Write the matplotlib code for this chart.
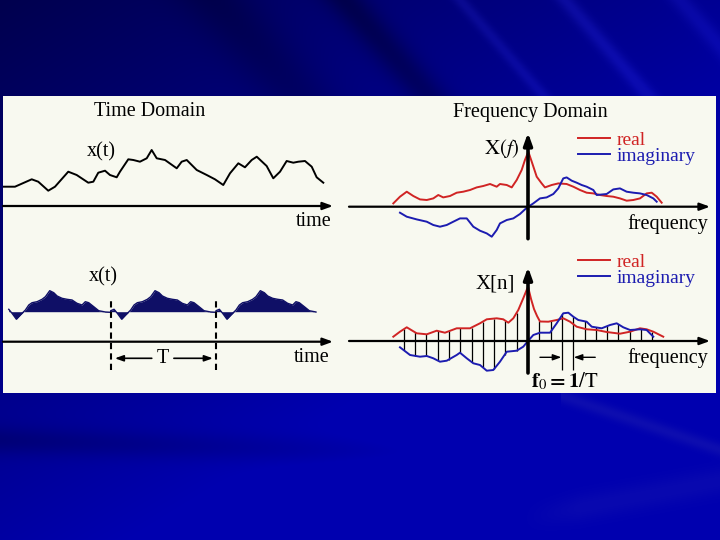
import numpy as np
import matplotlib
matplotlib.use('Agg')
import matplotlib.pyplot as plt
from matplotlib.patches import Rectangle

plt.rcParams['font.family'] = ['Liberation Serif', 'DejaVu Serif']
plt.rcParams['mathtext.fontset'] = 'stix'

W, H = 720, 540

# ---- data ----
# time domain, top: t in periods T, amplitude in arbitrary units
t_top = [-1.035, -0.909, -0.750, -0.688, -0.593, -0.529, -0.403, -0.323, -0.213, -0.165,
         -0.118, -0.054, -0.007, 0.057, 0.088, 0.167, 0.215, 0.278, 0.342, 0.389,
         0.437, 0.516, 0.627, 0.674, 0.722, 0.817, 0.912, 0.990, 1.069, 1.133,
         1.212, 1.275, 1.339, 1.387, 1.481, 1.544, 1.608, 1.671, 1.734, 1.782,
         1.845, 1.909, 1.956, 2.019]
x_top = [19.3, 19.3, 26.7, 24.3, 15.3, 19.3, 34.3, 31, 23.3, 24.3,
         33.3, 35.3, 31, 28.7, 34.3, 46.7, 46, 44.3, 47.7, 56,
         47.7, 46, 37.7, 44.3, 46, 36, 31, 26.7, 21, 32.7,
         42.7, 38.7, 46, 49.3, 40, 27.7, 34.3, 45, 43.3, 44.3,
         45, 39.3, 28.7, 23.3]

# time domain, bottom: one period of the periodic signal
phase = [0, .032, .063, .104, .142, .190, .222, .253, .301, .348, .380, .421, .459,
         .491, .538, .585, .633, .680, .728, .759, .791, .839, .886, .949, 1.0]
x_period = [31.0, 32.4, 28.4, 22.5, 26.7, 31.7, 36.7, 39.0, 40.0, 42.4, 45.0, 51.0, 49.0,
            45.7, 43.4, 42.4, 41.7, 38.4, 36.7, 40.0, 39.0, 35.0, 31.0, 29.7, 29.4]
periods = [-1, 0, 1]
t_start, t_end = -0.97, 1.955
x_base = 30

# frequency domain, top: X(f)
f_re_top = [-11.92, -11.33, -10.73, -10.15, -9.56, -8.96, -8.38, -7.94, -7.50, -6.90,
            -6.31, -5.73, -5.13, -4.54, -3.96, -3.36, -2.77, -2.48, -1.88, -1.44,
            -1.00, -0.56, -0.27, 0.03, 0.33, 0.77, 1.21, 1.50, 2.10, 2.68,
            3.42, 4.01, 4.60, 5.19, 5.78, 6.37, 6.96, 7.55, 8.14, 8.73,
            9.32, 9.91, 10.50, 10.95, 11.39, 11.83]
re_top = [3.3, 10, 15, 10.7, 7.3, 6.7, 8.3, 11.7, 9.3, 10.7,
          14, 15, 16.7, 19.3, 20.7, 22.7, 20, 22.7, 21.7, 19.3,
          26.7, 36.7, 46.7, 55, 45, 30, 23.3, 19.3, 21.7, 23.3,
          22.7, 20, 16.7, 14, 13.3, 11.7, 10.7, 10, 8.3, 6,
          6.7, 8.3, 13.3, 14, 10, 4]
f_im_top = [-11.33, -10.73, -9.85, -8.96, -8.38, -7.79, -7.19, -6.61, -6.02, -5.42,
            -4.84, -4.25, -3.65, -3.21, -2.77, -2.48, -1.88, -1.30, -0.71, -0.27,
            0.03, 0.47, 1.06, 1.65, 2.24, 2.68, 3.12, 3.42, 3.87, 4.31,
            4.75, 5.19, 5.78, 6.08, 6.96, 7.55, 8.14, 8.73, 9.32, 9.91,
            10.50, 11.09, 11.39]
im_top = [-6, -10, -12.7, -15, -18.3, -20, -18.3, -15, -11.7, -11.7,
          -20, -24, -26.7, -30, -23.3, -16.7, -13.3, -11.7, -7.3, -2.7,
          0, 3.3, 8.3, 9.3, 12.7, 18.3, 28.3, 29.3, 26, 24,
          21.7, 20, 16.7, 11.7, 12.7, 17.3, 18.3, 15, 14, 13.3,
          11.7, 8.3, 5]

# frequency domain, bottom: X[n]
f_re_bot = [-11.92, -11.33, -10.73, -9.85, -8.96, -8.08, -7.35, -6.31, -5.13, -4.25,
            -3.65, -2.77, -2.19, -1.74, -1.30, -0.86, -0.42, 0, 0.27, 0.53,
            0.80, 1.06, 1.80, 2.54, 3.12, 3.72, 4.31, 5.19, 6.08, 6.96,
            8.14, 9.03, 9.91, 10.50, 11.09, 11.97]
re_bot = [4.3, 9.3, 13.7, 7.7, 6.7, 10.3, 8.3, 12.7, 12.7, 17.7,
          21.7, 22.7, 21.7, 18.3, 22.7, 31, 42.7, 54.3, 42, 32,
          25, 19.5, 19.3, 21, 22.7, 19.3, 14.3, 11.7, 11, 9,
          7.3, 9.3, 12.7, 11.7, 9.3, 4.3]
f_im_bot = [-11.33, -10.44, -9.56, -8.96, -8.38, -7.79, -7.19, -6.31, -6.02, -5.42,
            -4.84, -4.25, -3.65, -3.07, -2.48, -1.88, -1.00, -0.42, 0, 0.47,
            1.06, 1.95, 2.54, 3.12, 3.57, 4.01, 4.45, 5.19, 5.64, 6.52,
            7.26, 7.85, 8.43, 9.03, 9.91, 10.50, 11.09]
im_bot = [-6.3, -14, -15.7, -15, -17.3, -20.7, -19.7, -14, -11.7, -17.3,
          -22.3, -24, -29.7, -29, -20.7, -10.7, -9.7, -5.7, 0, 6,
          8.3, 8.3, 17.7, 27.7, 28.3, 24.3, 21, 19.3, 14.3, 12.7,
          16, 17.7, 13.7, 11, 11.7, 11, 4.3]

# samples X[n] at the harmonics n*f0
n_samp = list(range(-11, 12))
re_samp = [11.7, 8.7, 6.7, 10.2, 9.8, 12.7, 13.3, 19.4, 22.4, 20.3, 28, 54,
           20.5, 19.8, 22.4, 16.9, 12.3, 11, 9, 7.5, 9.3, 12.6, 9.3]
im_samp = [-9.2, -14.9, -15, -18.7, -18.5, -11.7, -21, -26.4, -28, -13.5, -9.7, 0,
           8.3, 8.4, 27, 24.3, 19.7, 13.6, 15.2, 16.7, 11, 11.6, 5]

RED = '#d02424'
BLUE = '#1c1cb0'
NAVY = '#0f0f66'
PANEL = '#f8f9f0'


def sub_axes(px0, px1, py0, py1, ox, sx, oy, sy=1.0):
    # axes placed on a pixel box; data x -> ox + sx*x, data y -> oy - sy*y
    ax = fig.add_axes([px0 / W, 1 - py1 / H, (px1 - px0) / W, (py1 - py0) / H])
    ax.set_xlim((px0 - ox) / sx, (px1 - ox) / sx)
    ax.set_ylim((oy - py1) / sy, (oy - py0) / sy)
    ax.axis('off')
    ax.patch.set_alpha(0)
    return ax


def arrow(ax, x0, y0, x1, y1, lw=1.6, hl=0.6, hw=0.22):
    ax.annotate('', xy=(x1, y1), xytext=(x0, y0),
                arrowprops=dict(arrowstyle='-|>,head_length=%g,head_width=%g' % (hl, hw),
                                lw=lw, color='k', shrinkA=0, shrinkB=0),
                annotation_clip=False)


def legend(ax, handles, y):
    ax.legend(handles=handles, loc='upper left', bbox_to_anchor=(0.628, y),
              frameon=False, fontsize=14, handlelength=1.65, handletextpad=0.35,
              labelspacing=-0.08, borderpad=0, borderaxespad=0, labelcolor='linecolor')


fig = plt.figure(figsize=(7.2, 5.4), dpi=100)

# ---- slide background ----
bg = fig.add_axes([0, 0, 1, 1])
yy, xx = np.mgrid[0:H, 0:W].astype(float)
b = 78 + 70 * xx / W + 85 * yy / H
u = xx - 0.87 * yy
top = yy < 100
b -= 35 * np.exp(-((u - 345) / 22) ** 2) * top
b -= 22 * np.exp(-((u - 215) / 40) ** 2) * top
light = np.zeros_like(b)
for c, w, a in [(460, 8, 22), (565, 10, 26), (680, 12, 20)]:
    light += a * np.exp(-((u - c) / w) ** 2) * top
v = yy - 440 - 0.03 * xx
b -= 28 * np.exp(-(v / 14) ** 2) * (1 - xx / W) * (yy > 390)
w1 = yy - (395 + 0.34 * (xx - 560))
light += 30 * np.exp(-(w1 / 7) ** 2) * (xx > 560)
w2 = yy - (513 - 0.19 * (xx - 550))
light += 20 * np.exp(-(w2 / 14) ** 2) * np.clip((xx - 520) / 60, 0, 1)
b = np.clip(b + light, 0, 175)
rg = np.clip(light * 0.45, 0, 25)
img = np.dstack([rg, rg, b]) / 255.0
bg.imshow(img, extent=(0, W, H, 0), aspect='auto')
bg.add_patch(Rectangle((3, 96), 713, 297, facecolor=PANEL, edgecolor='none'))
bg.set_xlim(0, W)
bg.set_ylim(H, 0)
bg.axis('off')

# ---- time domain, top ----
T_px, t0_px = 105.3, 110.7
ax1 = sub_axes(3, 345, 96, 245, t0_px, T_px, 206)
ax1.plot(t_top, x_top, color='k', lw=1.4)
arrow(ax1, (3 - t0_px) / T_px, 0, (333 - t0_px) / T_px, 0)
ax1.text(0.365, 95, 'Time Domain', ha='center', va='center', fontsize=14.5)
ax1.text(-0.092, 54, 'x(t)', ha='center', va='center', fontsize=14.5)
ax1.text(1.931, -16, 'time', ha='center', va='center', fontsize=14.5)

# ---- time domain, bottom (periodic) ----
ax2 = sub_axes(3, 345, 245, 393, t0_px, T_px, 341.7)
tp = np.concatenate([np.array(phase) + k for k in periods])
xp = np.concatenate([x_period for k in periods])
keep = (tp >= t_start) & (tp <= t_end)
ax2.fill_between(tp[keep], xp[keep], x_base, color=NAVY, lw=0)
ax2.plot(tp[keep], xp[keep], color=NAVY, lw=1.0)
arrow(ax2, (3 - t0_px) / T_px, 0, (333 - t0_px) / T_px, 0)
for k in [0, 1]:
    ax2.plot([k, k], [-28.3, 43.7], color='k', lw=1.5, ls=(0, (3, 2)))
arrow(ax2, 0.39, -16.6, 0.04, -16.6, lw=1.2, hl=0.5, hw=0.18)
arrow(ax2, 0.60, -16.6, 0.97, -16.6, lw=1.2, hl=0.5, hw=0.18)
ax2.text(0.497, -16.6, 'T', ha='center', va='center', fontsize=14.5)
ax2.text(-0.072, 64.7, 'x(t)', ha='center', va='center', fontsize=14.5)
ax2.text(1.912, -15.3, 'time', ha='center', va='center', fontsize=14.5)

# ---- frequency domain, top ----
f0_px, fc_px = 11.3, 528
ax3 = sub_axes(345, 716, 96, 245, fc_px, f0_px, 206.7)
l_re, = ax3.plot(f_re_top, re_top, color=RED, lw=1.4, label='real')
l_im, = ax3.plot(f_im_top, im_top, color=BLUE, lw=1.4, label='imaginary')
arrow(ax3, (349 - fc_px) / f0_px, 0, (710 - fc_px) / f0_px, 0)
arrow(ax3, 0, -32, 0, 74, lw=2.6, hl=0.7, hw=0.25)
ax3.text(0.18, 94.7, 'Frequency Domain', ha='center', va='center', fontsize=14.5)
ax3.text(-2.3, 58.7, r'$\mathrm{X}(f)$', ha='center', va='center', fontsize=15)
ax3.text(12.35, -17.3, 'frequency', ha='center', va='center', fontsize=14.5)
legend(ax3, [l_re, l_im], 0.765)

# ---- frequency domain, bottom (sampled) ----
ax4 = sub_axes(345, 716, 245, 393, fc_px, f0_px, 341)
lo = np.minimum(0, np.minimum(re_samp, im_samp))
hi = np.maximum(0, np.maximum(re_samp, im_samp))
ax4.vlines(n_samp, lo, hi, color='k', lw=0.9)
l_re2, = ax4.plot(f_re_bot, re_bot, color=RED, lw=1.4, label='real')
l_im2, = ax4.plot(f_im_bot, im_bot, color=BLUE, lw=1.4, label='imaginary')
arrow(ax4, (349 - fc_px) / f0_px, 0, (710 - fc_px) / f0_px, 0)
arrow(ax4, 0, -32, 0, 74, lw=2.6, hl=0.7, hw=0.25)
ax4.vlines([3, 4], -29, 0, color='k', lw=0.9)
arrow(ax4, 1.06, -16.3, 2.95, -16.3, lw=1.0, hl=0.5, hw=0.18)
arrow(ax4, 5.95, -16.3, 4.05, -16.3, lw=1.0, hl=0.5, hw=0.18)
ax4.text(-2.92, 57, 'X[n]', ha='center', va='center', fontsize=15)
ax4.text(12.4, -17, 'frequency', ha='center', va='center', fontsize=14.5)
ax4.text(3.27, -40, r'$\mathbf{f}_{0}\mathbf{=1}/\mathrm{T}$', ha='center', va='center',
         fontsize=15)
legend(ax4, [l_re2, l_im2], 0.945)

fig.savefig('out.png', dpi=100)
